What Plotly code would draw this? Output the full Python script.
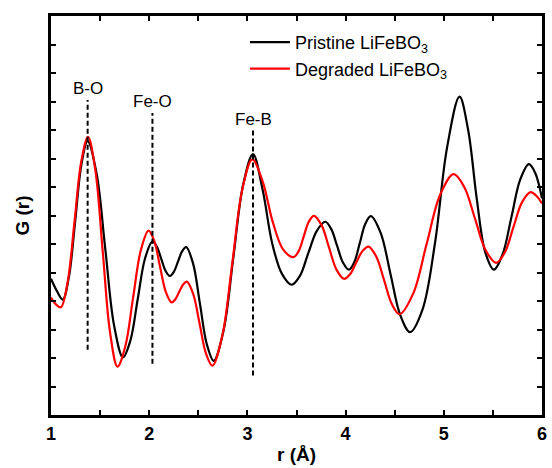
import plotly.graph_objects as go

# Pair distribution function G(r) of pristine and degraded LiFeBO3
r_pristine = [1.00, 1.06, 1.12, 1.183, 1.247, 1.31, 1.373, 1.463, 1.553, 1.643, 1.733,
              1.808, 1.883, 1.958, 2.033, 2.077, 2.122, 2.166, 2.21, 2.252, 2.294, 2.335,
              2.377, 2.447, 2.517, 2.587, 2.657, 2.757, 2.857, 2.957, 3.057, 3.155, 3.254,
              3.352, 3.45, 3.536, 3.62, 3.707, 3.793, 3.853, 3.913, 3.973, 4.033, 4.089,
              4.145, 4.201, 4.257, 4.357, 4.457, 4.557, 4.657, 4.783, 4.909, 5.034, 5.16,
              5.248, 5.335, 5.423, 5.51, 5.599, 5.689, 5.778, 5.867, 5.93, 6.00]
g_pristine = [4.78, 4.35, 4.05, 4.86, 6.83, 8.80, 9.61, 8.50, 5.82, 3.13, 2.02,
              2.61, 4.06, 5.50, 6.09, 5.91, 5.49, 5.06, 4.88, 5.03, 5.39, 5.74,
              5.89, 5.31, 3.90, 2.48, 1.90, 2.96, 5.53, 8.09, 9.15, 7.90, 6.00,
              4.95, 4.57, 4.89, 5.68, 6.46, 6.78, 6.53, 5.94, 5.35, 5.10, 5.37,
              6.04, 6.71, 6.98, 6.39, 4.95, 3.50, 2.91, 3.70, 6.00, 9.40, 11.17,
              10.00, 7.60, 5.70, 5.10, 5.64, 6.95, 8.26, 8.80, 8.50, 7.60]

r_degraded = [1.00, 1.05, 1.10, 1.169, 1.239, 1.308, 1.377, 1.452, 1.527, 1.602, 1.677,
              1.756, 1.835, 1.914, 1.993, 2.052, 2.11, 2.169, 2.227, 2.266, 2.305, 2.344,
              2.383, 2.448, 2.513, 2.578, 2.643, 2.745, 2.847, 2.948, 3.05, 3.155, 3.26,
              3.365, 3.47, 3.522, 3.574, 3.625, 3.677, 3.754, 3.83, 3.907, 3.983, 4.046,
              4.108, 4.171, 4.233, 4.312, 4.392, 4.471, 4.55, 4.688, 4.825, 4.963, 5.10,
              5.208, 5.317, 5.425, 5.533, 5.621, 5.708, 5.796, 5.883, 5.94, 6.00]
g_degraded = [4.12, 3.88, 3.78, 4.65, 6.77, 8.89, 9.76, 8.58, 5.73, 2.88, 1.70,
              2.40, 4.09, 5.77, 6.47, 6.10, 5.21, 4.32, 3.95, 4.06, 4.32, 4.57,
              4.68, 4.25, 3.21, 2.16, 1.73, 2.79, 5.35, 7.91, 8.97, 8.20, 6.75,
              5.80, 5.54, 5.75, 6.27, 6.78, 6.99, 6.67, 5.89, 5.10, 4.78, 4.94,
              5.35, 5.75, 5.91, 5.56, 4.73, 3.89, 3.54, 4.26, 6.00, 7.73, 8.45,
              8.00, 6.90, 5.79, 5.34, 5.70, 6.58, 7.46, 7.82, 7.70, 7.42]

# Bond-distance markers: position, label, dashed-line extent
bond_labels = ["B-O", "Fe-O", "Fe-B"]
bond_r = [1.373, 2.033, 3.057]
bond_top = [11.05, 10.60, 9.98]
bond_bottom = [2.29, 1.80, 1.39]

x_ticks = [1, 2, 3, 4, 5, 6]

fig = go.Figure()
fig.add_trace(go.Scatter(
    x=r_pristine, y=g_pristine, mode="lines",
    name="Pristine LiFeBO<sub>3</sub>",
    line=dict(color="#000000", width=2.2, shape="spline", smoothing=1.0),
))
fig.add_trace(go.Scatter(
    x=r_degraded, y=g_degraded, mode="lines",
    name="Degraded LiFeBO<sub>3</sub>",
    line=dict(color="#FF0000", width=2.2, shape="spline", smoothing=1.0),
))

for lab, xr, top, bot in zip(bond_labels, bond_r, bond_top, bond_bottom):
    fig.add_shape(type="line", x0=xr, x1=xr, y0=bot, y1=top, xref="x", yref="y",
                  line=dict(color="#000000", width=2, dash="5px,3px"))
    fig.add_annotation(x=xr, y=top, xref="x", yref="y", text=lab, showarrow=False,
                       yanchor="bottom", yshift=0,
                       font=dict(family="Liberation Sans, Arial", size=17, color="#000000"))

fig.update_layout(
    width=552, height=468,
    margin=dict(l=51, r=5, t=16, b=50),
    paper_bgcolor="white", plot_bgcolor="white",
    font=dict(family="Liberation Sans, Arial", color="#000000"),
    showlegend=True,
    legend=dict(
        x=0.395, y=0.98, xanchor="left", yanchor="top",
        bgcolor="rgba(0,0,0,0)", borderwidth=0,
        font=dict(size=18, color="#000000"),
        tracegroupgap=0, itemwidth=40,
    ),
)

fig.update_xaxes(
    range=[1, 6], tickvals=x_ticks, ticktext=[str(v) for v in x_ticks],
    ticks="inside", ticklen=5, tickwidth=2, tickcolor="#000000",
    minor=dict(ticks="inside", dtick=0.5, ticklen=5, tickwidth=2, tickcolor="#000000"),
    showline=True, linewidth=3, linecolor="#000000", mirror="ticks",
    showgrid=False, zeroline=False,
    tickfont=dict(family="Liberation Sans, Arial", size=18, color="#000000", weight="bold"),
    title=dict(text="<b>r (Å)</b>", standoff=6,
               font=dict(family="Liberation Sans, Arial", size=19, color="#000000")),
)
fig.update_yaxes(
    range=[0, 14], dtick=1, tick0=0, showticklabels=False,
    ticks="inside", ticklen=5, tickwidth=2, tickcolor="#000000",
    showline=True, linewidth=3, linecolor="#000000", mirror="ticks",
    showgrid=False, zeroline=False,
    title=dict(text="<b>G (r)</b>", standoff=14,
               font=dict(family="Liberation Sans, Arial", size=19, color="#000000")),
)

fig.write_html("out.html")
